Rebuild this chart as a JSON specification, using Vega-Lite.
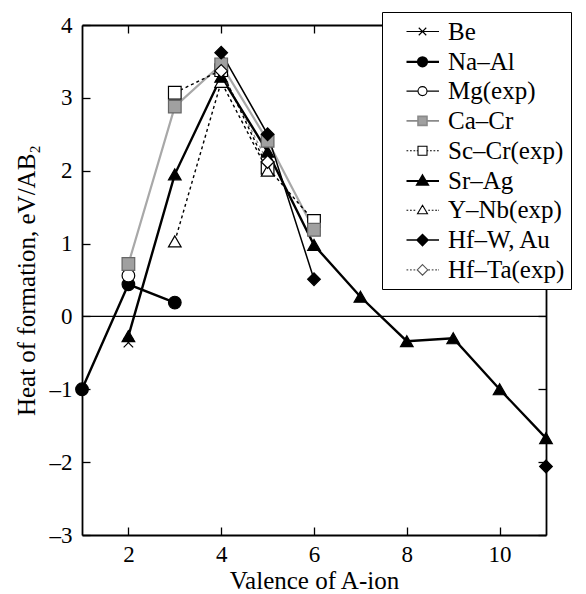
{
  "$schema": "https://vega.github.io/schema/vega-lite/v6.json",
  "width": 464,
  "height": 510,
  "autosize": {"type": "none"},
  "padding": {"left": 82, "top": 25, "right": 40, "bottom": 59},
  "background": "white",
  "data": {"values": [
    {"series": "Na–Al", "valence": 1, "heat": -1.0},
    {"series": "Na–Al", "valence": 2, "heat": 0.44},
    {"series": "Na–Al", "valence": 3, "heat": 0.19},
    {"series": "Sc–Cr(exp)", "valence": 3, "heat": 3.07},
    {"series": "Sc–Cr(exp)", "valence": 4, "heat": 3.38},
    {"series": "Sc–Cr(exp)", "valence": 5, "heat": 2.04},
    {"series": "Sc–Cr(exp)", "valence": 6, "heat": 1.31},
    {"series": "Y–Nb(exp)", "valence": 3, "heat": 1.03},
    {"series": "Y–Nb(exp)", "valence": 4, "heat": 3.22},
    {"series": "Y–Nb(exp)", "valence": 5, "heat": 2.0},
    {"series": "Sr–Ag", "valence": 2, "heat": -0.27},
    {"series": "Sr–Ag", "valence": 3, "heat": 1.95},
    {"series": "Sr–Ag", "valence": 4, "heat": 3.29},
    {"series": "Sr–Ag", "valence": 5, "heat": 2.26},
    {"series": "Sr–Ag", "valence": 6, "heat": 0.98},
    {"series": "Sr–Ag", "valence": 7, "heat": 0.27},
    {"series": "Sr–Ag", "valence": 8, "heat": -0.34},
    {"series": "Sr–Ag", "valence": 9, "heat": -0.3},
    {"series": "Sr–Ag", "valence": 10, "heat": -1.0},
    {"series": "Sr–Ag", "valence": 11, "heat": -1.67},
    {"series": "Be", "valence": 2, "heat": -0.36},
    {"series": "Mg(exp)", "valence": 2, "heat": 0.56},
    {"series": "Ca–Cr", "valence": 2, "heat": 0.72},
    {"series": "Ca–Cr", "valence": 3, "heat": 2.88},
    {"series": "Ca–Cr", "valence": 4, "heat": 3.46},
    {"series": "Ca–Cr", "valence": 5, "heat": 2.41},
    {"series": "Ca–Cr", "valence": 6, "heat": 1.19},
    {"series": "Hf–Ta(exp)", "valence": 4, "heat": 3.37},
    {"series": "Hf–Ta(exp)", "valence": 5, "heat": 2.12},
    {"series": "Hf–W, Au", "valence": 4, "heat": 3.62},
    {"series": "Hf–W, Au", "valence": 5, "heat": 2.5},
    {"series": "Hf–W, Au", "valence": 6, "heat": 0.51},
    {"series": "Hf–W, Au", "valence": 11, "heat": -2.06}
  ]},
  "resolve": {
    "axis": {"x": "independent", "y": "independent"},
    "scale": {"shape": "independent", "fill": "independent", "stroke": "independent", "strokeWidth": "independent"}
  },
  "layer": [
    {
      "data": {"values": [{"zero": 0}]},
      "mark": {"type": "rule", "color": "black", "strokeWidth": 1.2},
      "encoding": {
        "y": {"field": "zero", "type": "quantitative", "scale": {"domain": [-3, 4], "nice": false, "zero": false}, "axis": null}
      }
    },
    {
      "transform": [{"filter": "datum.series === 'Ca–Cr'"}],
      "mark": {"type": "line", "color": "#a8a8a8", "strokeWidth": 2.2},
      "encoding": {
        "x": {"field": "valence", "type": "quantitative", "scale": {"domain": [1, 11], "nice": false, "zero": false}, "axis": null},
        "y": {"field": "heat", "type": "quantitative", "axis": null},
        "detail": {"field": "series"}
      }
    },
    {
      "transform": [{"filter": "datum.series === 'Hf–Ta(exp)'"}],
      "mark": {"type": "line", "color": "#8c8c8c", "strokeWidth": 1.2, "strokeDash": [3, 3]},
      "encoding": {
        "x": {"field": "valence", "type": "quantitative", "axis": null},
        "y": {"field": "heat", "type": "quantitative", "axis": null},
        "detail": {"field": "series"}
      }
    },
    {
      "transform": [{"filter": "datum.series === 'Sc–Cr(exp)' || datum.series === 'Y–Nb(exp)'"}],
      "mark": {"type": "line", "color": "black", "strokeWidth": 1.4, "strokeDash": [3, 3]},
      "encoding": {
        "x": {"field": "valence", "type": "quantitative", "axis": null},
        "y": {"field": "heat", "type": "quantitative", "axis": null},
        "detail": {"field": "series"}
      }
    },
    {
      "transform": [{"filter": "datum.series === 'Hf–W, Au' && datum.valence < 11"}],
      "mark": {"type": "line", "color": "black", "strokeWidth": 1.5},
      "encoding": {
        "x": {"field": "valence", "type": "quantitative", "axis": null},
        "y": {"field": "heat", "type": "quantitative", "axis": null},
        "detail": {"field": "series"}
      }
    },
    {
      "transform": [{"filter": "datum.series === 'Na–Al' || datum.series === 'Sr–Ag'"}],
      "mark": {"type": "line", "color": "black", "strokeWidth": 2.4},
      "encoding": {
        "x": {"field": "valence", "type": "quantitative",
          "axis": {"orient": "bottom", "values": [2, 4, 6, 8, 10], "title": "Valence of A-ion", "tickSize": -8, "labelPadding": 16, "titlePadding": 2}},
        "y": {"field": "heat", "type": "quantitative",
          "axis": {"orient": "left", "values": [-3, -2, -1, 0, 1, 2, 3, 4], "title": "Heat of formation, eV/AB₂", "tickSize": -8, "labelPadding": 18, "titlePadding": 10,
            "labelExpr": "datum.value < 0 ? '–' + abs(datum.value) : datum.label"}},
        "detail": {"field": "series"}
      }
    },
    {
      "mark": {"type": "point", "size": 160, "opacity": 1, "strokeWidth": 1.2},
      "encoding": {
        "x": {"field": "valence", "type": "quantitative",
          "axis": {"orient": "top", "values": [2, 4, 6, 8, 10], "labels": false, "title": null, "tickSize": -8}},
        "y": {"field": "heat", "type": "quantitative",
          "axis": {"orient": "right", "values": [-3, -2, -1, 0, 1, 2, 3, 4], "labels": false, "title": null, "tickSize": -8}},
        "shape": {
          "field": "series", "type": "nominal", "legend": null,
          "scale": {
            "domain": ["Be", "Na–Al", "Mg(exp)", "Ca–Cr", "Sc–Cr(exp)", "Sr–Ag", "Y–Nb(exp)", "Hf–W, Au", "Hf–Ta(exp)"],
            "range": ["M-0.75,-0.75L0.75,0.75M-0.75,0.75L0.75,-0.75", "circle", "circle", "square", "square", "triangle-up", "triangle-up", "diamond", "diamond"]
          }
        },
        "fill": {
          "field": "series", "type": "nominal", "legend": null,
          "scale": {
            "domain": ["Be", "Na–Al", "Mg(exp)", "Ca–Cr", "Sc–Cr(exp)", "Sr–Ag", "Y–Nb(exp)", "Hf–W, Au", "Hf–Ta(exp)"],
            "range": ["white", "black", "white", "#a0a0a0", "white", "black", "white", "black", "white"]
          }
        },
        "stroke": {
          "field": "series", "type": "nominal", "legend": null,
          "scale": {
            "domain": ["Be", "Na–Al", "Mg(exp)", "Ca–Cr", "Sc–Cr(exp)", "Sr–Ag", "Y–Nb(exp)", "Hf–W, Au", "Hf–Ta(exp)"],
            "range": ["black", "black", "black", "#666666", "black", "black", "black", "black", "black"]
          }
        }
      }
    },
    {
      "transform": [{"filter": "datum.valence > 100"}],
      "mark": {"type": "point", "filled": true, "opacity": 1},
      "encoding": {
        "x": {"field": "valence", "type": "quantitative", "axis": null},
        "y": {"field": "heat", "type": "quantitative", "axis": null},
        "shape": {
          "field": "series", "type": "nominal",
          "scale": {
            "domain": ["Be", "Na–Al", "Mg(exp)", "Ca–Cr", "Sc–Cr(exp)", "Sr–Ag", "Y–Nb(exp)", "Hf–W, Au", "Hf–Ta(exp)"],
            "range": [
              "M0.36,0L2.96,0M1.34,-0.3L1.94,0.3M1.34,0.3L1.94,-0.3",
              "M0.36,0L2.96,0M1.28,0A0.36,0.36,0,1,0,2.0,0A0.36,0.36,0,1,0,1.28,0Z",
              "M0.36,0L1.28,0M2.0,0L2.96,0M1.28,0A0.36,0.36,0,1,0,2.0,0A0.36,0.36,0,1,0,1.28,0Z",
              "M0.36,0L1.28,0M2.0,0L2.96,0M1.28,-0.36L2.0,-0.36L2.0,0.36L1.28,0.36Z",
              "M0.36,0L0.5,0M0.64,0L0.78,0M0.92,0L1.06,0M1.18,0L1.26,0M2.02,0L2.1,0M2.24,0L2.38,0M2.52,0L2.66,0M2.8,0L2.94,0M1.28,-0.36L2.0,-0.36L2.0,0.36L1.28,0.36Z",
              "M0.36,0L2.96,0M1.64,-0.42L2.06,0.3L1.22,0.3Z",
              "M0.36,0L0.5,0M0.64,0L0.78,0M0.92,0L1.06,0M2.1,0L2.24,0M2.38,0L2.52,0M2.66,0L2.8,0M2.9,0L2.96,0M1.64,-0.4L2.04,0.28L1.24,0.28Z",
              "M0.36,0L2.96,0M1.64,-0.44L2.08,0L1.64,0.44L1.2,0Z",
              "M0.36,0L0.5,0M0.64,0L0.78,0M0.92,0L1.06,0M2.1,0L2.24,0M2.38,0L2.52,0M2.66,0L2.8,0M2.9,0L2.96,0M1.64,-0.42L2.06,0L1.64,0.42L1.22,0Z"
            ]
          },
          "legend": {
            "orient": "none", "legendX": 300, "legendY": -13, "title": null,
            "strokeColor": "black", "fillColor": "white", "padding": 6,
            "rowPadding": 2.8, "symbolSize": 625, "labelOffset": 32,
            "labelFont": "Liberation Serif, Times New Roman, serif", "labelFontSize": 25, "labelColor": "black", "labelLimit": 300
          }
        },
        "fill": {
          "field": "series", "type": "nominal",
          "scale": {
            "domain": ["Be", "Na–Al", "Mg(exp)", "Ca–Cr", "Sc–Cr(exp)", "Sr–Ag", "Y–Nb(exp)", "Hf–W, Au", "Hf–Ta(exp)"],
            "range": ["white", "black", "white", "#a0a0a0", "white", "black", "white", "black", "white"]
          },
          "legend": {
            "orient": "none", "legendX": 300, "legendY": -13, "title": null,
            "strokeColor": "black", "fillColor": "white", "padding": 6,
            "rowPadding": 2.8, "symbolSize": 625, "labelOffset": 32,
            "labelFont": "Liberation Serif, Times New Roman, serif", "labelFontSize": 25, "labelColor": "black", "labelLimit": 300
          }
        },
        "stroke": {
          "field": "series", "type": "nominal",
          "scale": {
            "domain": ["Be", "Na–Al", "Mg(exp)", "Ca–Cr", "Sc–Cr(exp)", "Sr–Ag", "Y–Nb(exp)", "Hf–W, Au", "Hf–Ta(exp)"],
            "range": ["black", "black", "black", "#8a8a8a", "black", "black", "black", "black", "#555555"]
          },
          "legend": {
            "orient": "none", "legendX": 300, "legendY": -13, "title": null,
            "strokeColor": "black", "fillColor": "white", "padding": 6,
            "rowPadding": 2.8, "symbolSize": 625, "labelOffset": 32,
            "labelFont": "Liberation Serif, Times New Roman, serif", "labelFontSize": 25, "labelColor": "black", "labelLimit": 300
          }
        },
        "strokeWidth": {
          "field": "series", "type": "nominal",
          "scale": {
            "type": "ordinal",
            "domain": ["Be", "Na–Al", "Mg(exp)", "Ca–Cr", "Sc–Cr(exp)", "Sr–Ag", "Y–Nb(exp)", "Hf–W, Au", "Hf–Ta(exp)"],
            "range": [1.1, 2.2, 1.1, 1.6, 1.1, 2.2, 1.1, 1.5, 1.1]
          },
          "legend": {
            "orient": "none", "legendX": 300, "legendY": -13, "title": null,
            "strokeColor": "black", "fillColor": "white", "padding": 6,
            "rowPadding": 2.8, "symbolSize": 625, "labelOffset": 32,
            "labelFont": "Liberation Serif, Times New Roman, serif", "labelFontSize": 25, "labelColor": "black", "labelLimit": 300
          }
        }
      }
    }
  ],
  "config": {
    "view": {"stroke": null},
    "font": "Liberation Serif, Times New Roman, serif",
    "axis": {
      "grid": false,
      "domainColor": "black", "domainWidth": 1.8,
      "tickColor": "black", "tickWidth": 1.3,
      "labelColor": "black", "labelFont": "Liberation Serif, Times New Roman, serif", "labelFontSize": 23,
      "titleColor": "black", "titleFont": "Liberation Serif, Times New Roman, serif", "titleFontSize": 25, "titleFontWeight": "normal"
    }
  }
}
